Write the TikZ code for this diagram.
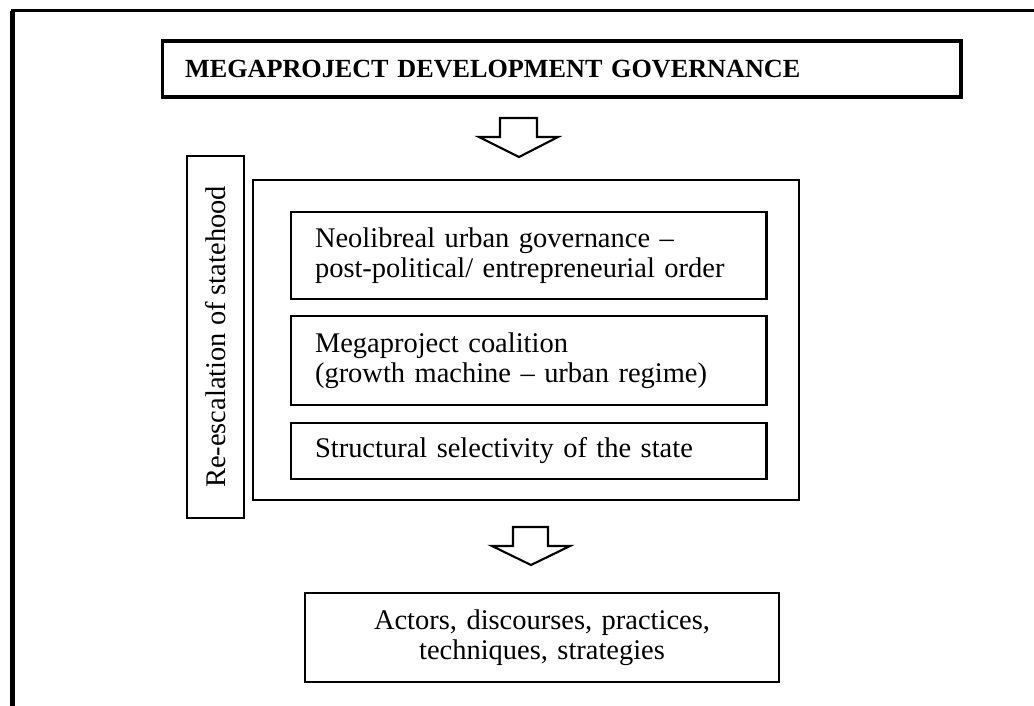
\documentclass[tikz,border=0pt]{standalone}
\usepackage{fontspec}
\setmainfont{Liberation Serif}

\newcommand{\txt}{\fontsize{16.2}{17.4}\selectfont}
\tikzset{
  box/.style={draw, line width=1.6pt, rectangle, inner sep=0pt, font=\txt},
  leftbox/.style={box, minimum width=9.51cm, text width=8.55cm, align=left},
  blockarr/.style={draw, line width=1.2pt, line join=miter, fill=white}
}

\begin{document}
\begin{tikzpicture}[x=0.02cm, y=-0.02cm]

    \useasboundingbox (0,0) rectangle (1034,706);

    % frame, cut off at right and bottom
    \draw[line width=2.8pt] (12.5,706) -- (12.5,10.7);
    \draw[line width=1.5pt] (11.1,10.7) -- (1034,10.7);

    \draw(561.5,69) node[box, line width=1.8pt, minimum width=15.98cm, minimum height=1.12cm,
      text width=15.06cm, align=left, font=\fontsize{14.9}{17}\selectfont\bfseries] (title)
      {MEGAPROJECT DEVELOPMENT GOVERNANCE};

    \draw(215.5,337) node[box, rotate=90, line width=1.3pt, minimum width=7.24cm,
      minimum height=1.14cm] (side) {Re-escalation of statehood};

    \draw(526,340) node[box, minimum width=10.92cm, minimum height=6.4cm] (main) {};

    \draw(528.75,255.5) node[leftbox, minimum height=1.74cm] (neolib)
      {Neolibreal urban governance –\\post-political/ entrepreneurial order};
    \draw(528.75,360.5) node[leftbox, minimum height=1.78cm] (coalition)
      {Megaproject coalition\\(growth machine – urban regime)};
    \draw(528.75,451) node[leftbox, minimum height=1.12cm] (select)
      {Structural selectivity of the state};

    \draw(542,637.5) node[box, minimum width=9.48cm, minimum height=1.78cm,
      text width=9cm, align=center] (actors)
      {Actors, discourses, practices,\\techniques, strategies};

    % block arrows
    \draw[blockarr] (500,118) -- (537,118) -- (537,137) -- (558,137) -- (519,157)
      -- (479,137) -- (500,137) -- cycle;
    \draw[blockarr] (513,527) -- (548,527) -- (548,546) -- (570,546) -- (531,565)
      -- (492,546) -- (513,546) -- cycle;

\end{tikzpicture}
\end{document}
